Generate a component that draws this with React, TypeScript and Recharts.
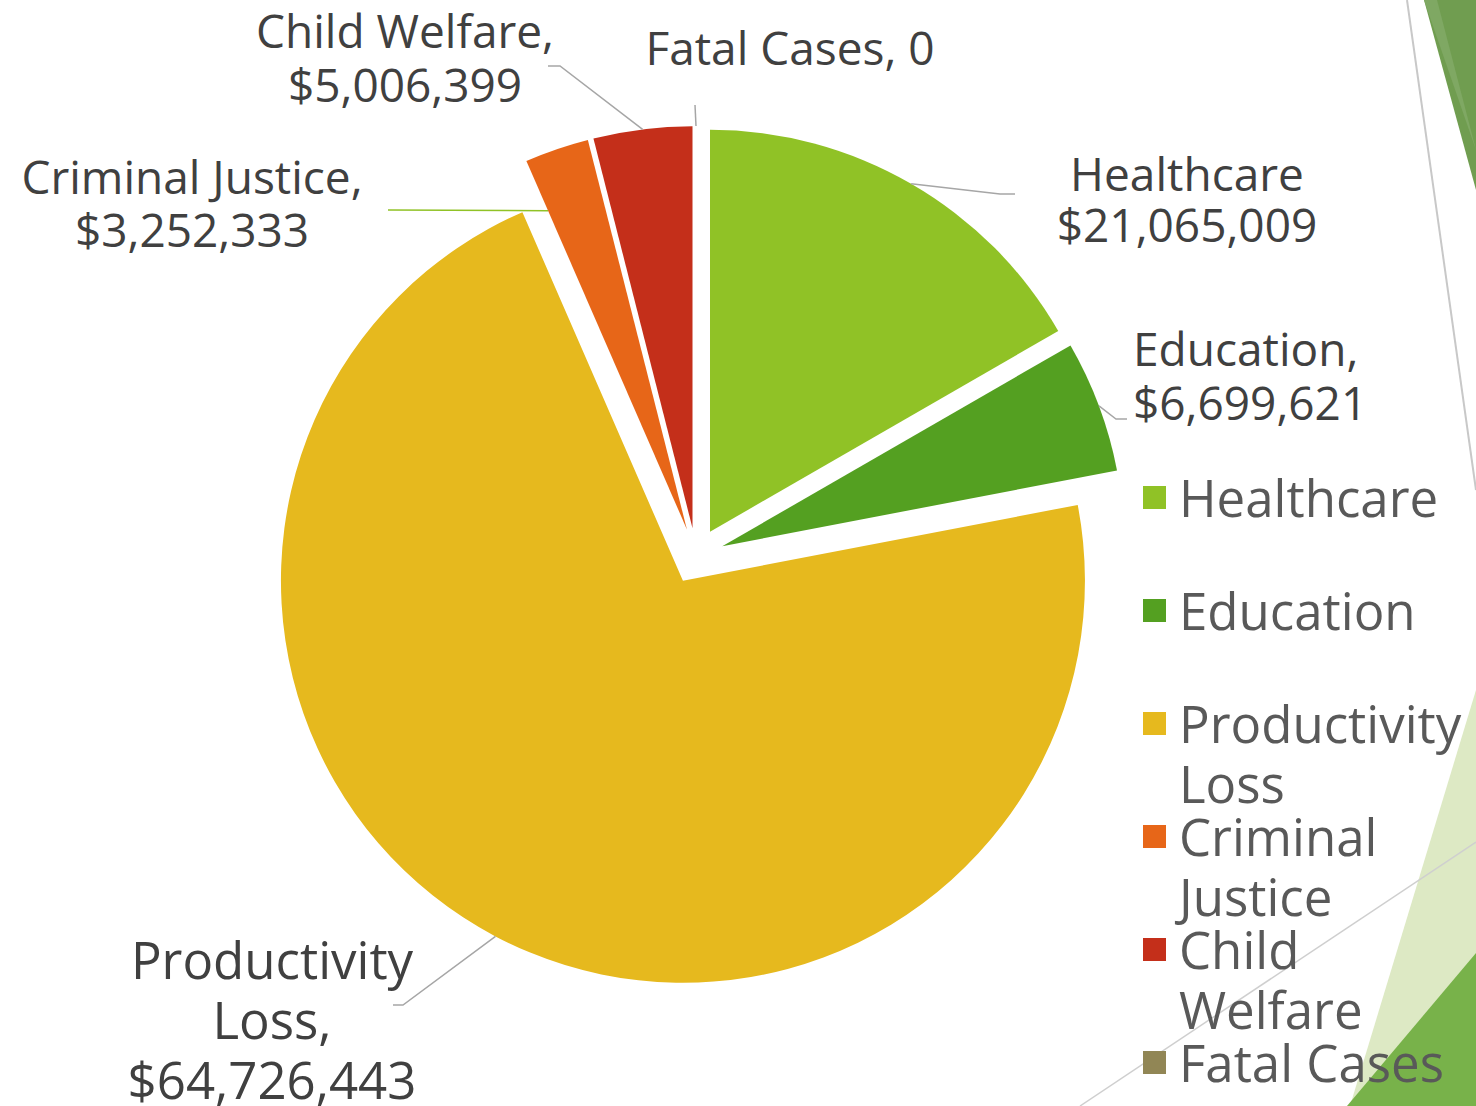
import React from "react";
import { PieChart, Pie, Cell, Sector, Legend } from "recharts";

const categories = ["Healthcare", "Education", "Productivity Loss", "Criminal Justice", "Child Welfare", "Fatal Cases"];
// amounts printed in the data labels
const amounts = [21065009, 6699621, 64726443, 3252333, 5006399, 0];
// wedge sizes as drawn; the Productivity Loss wedge spans ~257 deg in the picture, more than its label says
const sliceSizes = [21065009, 6699621, 90300000, 3252333, 5006399, 0];
const colors = ["#90c226", "#54a021", "#e6b91e", "#e76618", "#c42f1a", "#918655"];

const data = categories.map((name, i) => ({ name, value: sliceSizes[i] }));

const money = (v: number) => (v === 0 ? "0" : "$" + v.toLocaleString("en-US"));
const labelLines = [
  [categories[0], money(amounts[0])],
  [categories[1] + ",", money(amounts[1])],
  ["Productivity", "Loss,", money(amounts[2])],
  [categories[3] + ",", money(amounts[3])],
  [categories[4] + ",", money(amounts[4])],
  [categories[5] + ", " + money(amounts[5])],
];

const RAD = Math.PI / 180;
const EXPLODE = 28;
const FONT = "'Open Sans', 'Noto Sans', sans-serif";
const GREY = "#a6a6a6";

// where each data label sits and how its leader line bends
const labelLayout = [
  { x: 1187, y: 191, anchor: "middle", size: 46, lh: 51, along: 0.5, reach: 1, path: [[1000, 194], [1015, 194]], stroke: GREY },
  { x: 1133, y: 366, anchor: "start", size: 46, lh: 54, along: 0.5, reach: 1, path: [[1116, 419], [1127, 419]], stroke: GREY },
  { x: 272, y: 979, anchor: "middle", size: 51, lh: 60, along: 0.5, reach: 1, path: [[403, 1005], [393, 1005]], stroke: GREY },
  { x: 192, y: 194, anchor: "middle", size: 46, lh: 53, along: 0, reach: 0.865, path: [[388, 210]], stroke: "#90c226" },
  { x: 405, y: 48, anchor: "middle", size: 46, lh: 54, along: 0.5, reach: 1, path: [[560, 66], [548, 66]], stroke: GREY },
  { x: 790, y: 65, anchor: "middle", size: 46, lh: 54, along: 0.5, reach: 1, path: [[695, 105]], stroke: GREY },
];

const ExplodedSector = (props: any) => {
  const { cx, cy, midAngle } = props;
  return (
    <Sector
      {...props}
      cx={cx + EXPLODE * Math.cos(-midAngle * RAD)}
      cy={cy + EXPLODE * Math.sin(-midAngle * RAD)}
    />
  );
};

const renderLabel = (props: any) => {
  const { cx, cy, midAngle, startAngle, endAngle, outerRadius, index } = props;
  const L = labelLayout[index];
  const ex = cx + EXPLODE * Math.cos(-midAngle * RAD);
  const ey = cy + EXPLODE * Math.sin(-midAngle * RAD);
  const a = startAngle + L.along * (endAngle - startAngle);
  const sx = ex + outerRadius * L.reach * Math.cos(-a * RAD);
  const sy = ey + outerRadius * L.reach * Math.sin(-a * RAD);
  const pts = [[sx, sy], ...L.path].map((p) => p.join(",")).join(" ");
  return (
    <g key={`label-${index}`}>
      <polyline points={pts} fill="none" stroke={L.stroke} strokeWidth={1.5} />
      <text x={L.x} y={L.y} textAnchor={L.anchor as any} fill="#404040" fontSize={L.size} fontFamily={FONT}>
        {labelLines[index].map((t, j) => (
          <tspan key={j} x={L.x} dy={j === 0 ? 0 : L.lh}>
            {t}
          </tspan>
        ))}
      </text>
    </g>
  );
};

const renderLegend = () => (
  <div style={{ fontFamily: FONT }}>
    {categories.map((name, i) => (
      <div key={name} style={{ display: "flex", alignItems: "flex-start", height: 113 }}>
        <div style={{ width: 23, height: 23, marginTop: 19, background: colors[i], flex: "none" }} />
        <div style={{ marginLeft: 13, width: 300, fontSize: 51, lineHeight: "60px", color: "#595959" }}>{name}</div>
      </div>
    ))}
  </div>
);

export default function App() {
  return (
    <div style={{ position: "fixed", left: 0, top: 0, width: 1476, height: 1106, overflow: "hidden", background: "#fff" }}>
      <svg width={1476} height={1106} style={{ position: "absolute", left: 0, top: 0 }}>
        <polygon points="1424,0 1476,0 1476,190" fill="#709d50" />
        <polygon points="1424,0 1437,0 1476,150" fill="#7fa863" />
        <line x1={1407} y1={0} x2={1476} y2={490} stroke="#c8c8c8" strokeWidth={2} />
        <polygon points="1476,690 1476,1106 1350,1106" fill="#dde9c4" />
        <polygon points="1476,953 1476,1106 1347,1106" fill="#78b24a" />
        <line x1={1080} y1={1106} x2={1476} y2={842} stroke="#cfcfcf" strokeWidth={1.5} />
      </svg>
      <div style={{ position: "absolute", left: 0, top: 0 }}>
        <PieChart width={1476} height={1106} margin={{ top: 0, right: 0, bottom: 0, left: 0 }}>
          <Pie
            data={data}
            dataKey="value"
            nameKey="name"
            cx={696}
            cy={556}
            outerRadius={402}
            startAngle={90}
            endAngle={-270}
            stroke="none"
            isAnimationActive={false}
            shape={ExplodedSector}
            label={renderLabel}
            labelLine={false}
          >
            {data.map((d, i) => (
              <Cell key={d.name} fill={colors[i]} />
            ))}
          </Pie>
          <Legend
            content={renderLegend}
            wrapperStyle={{ position: "absolute", left: 1143, top: 467, width: 333 }}
          />
        </PieChart>
      </div>
    </div>
  );
}
